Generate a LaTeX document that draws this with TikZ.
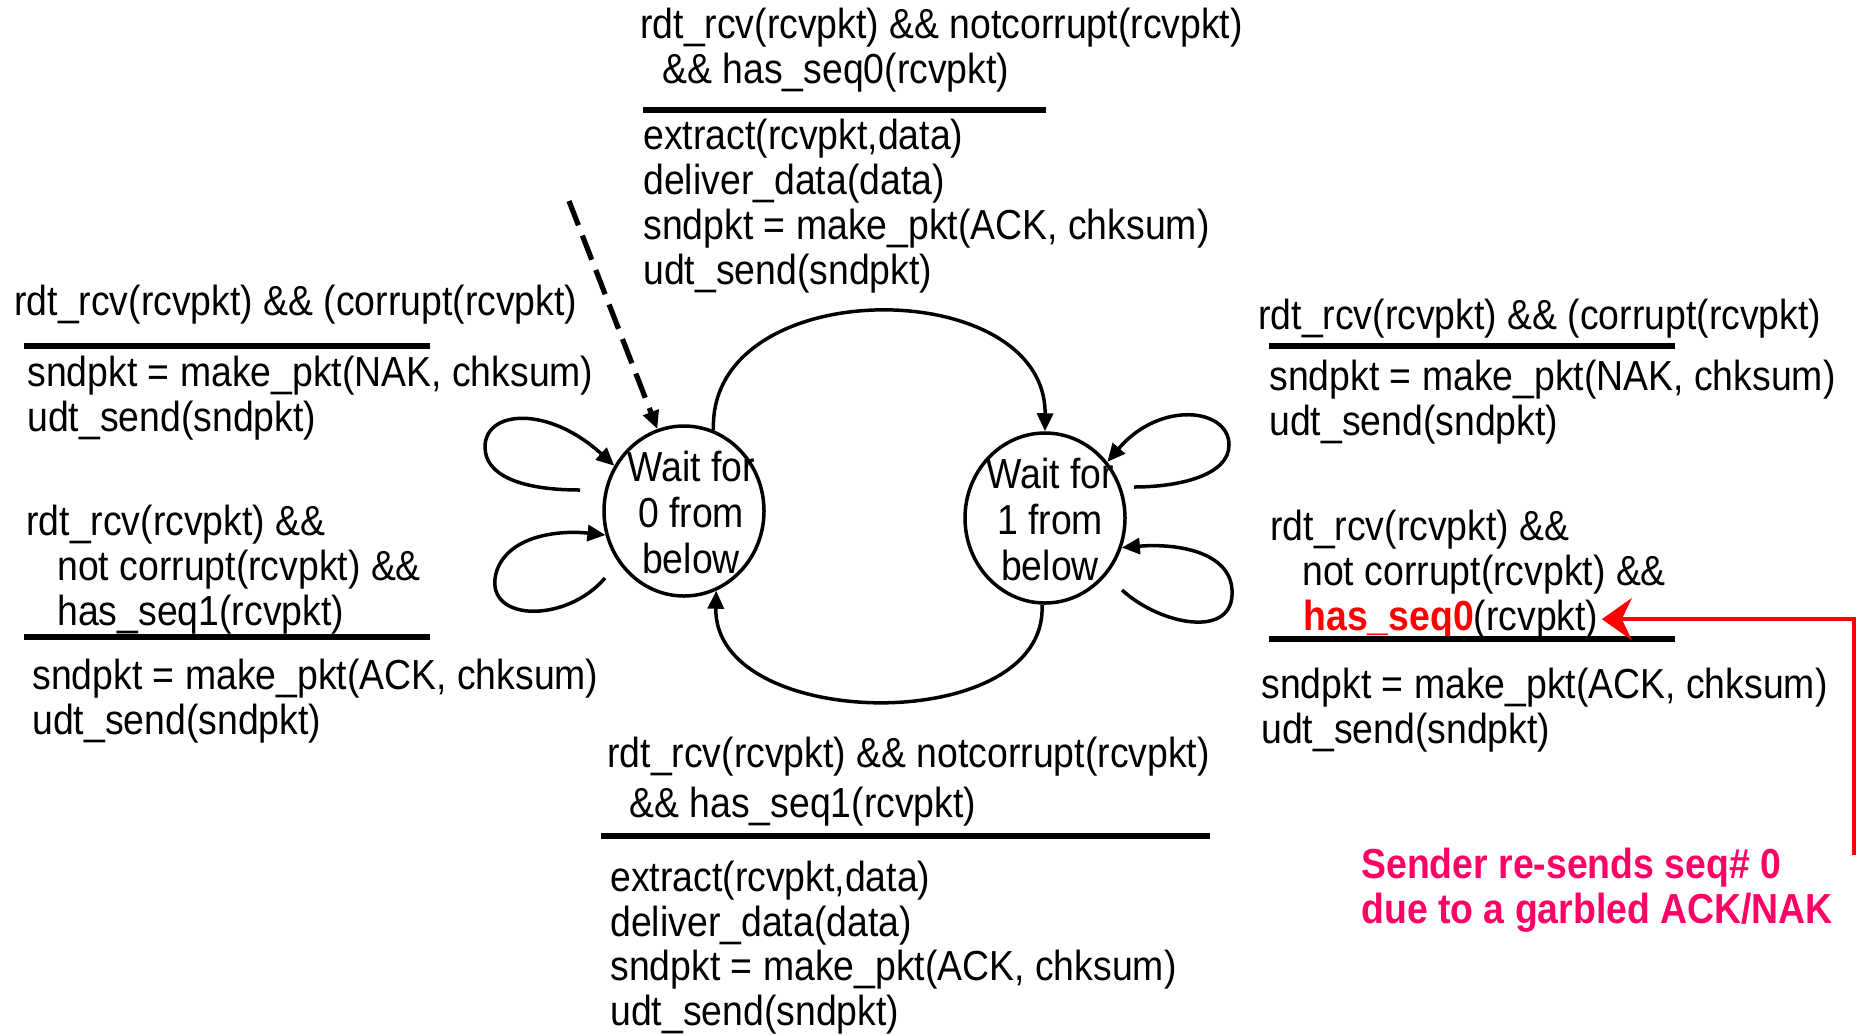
\documentclass[tikz,border=0pt]{standalone}
\usepackage{fontspec}
\setmainfont[FakeStretch=0.89]{Liberation Sans}
\usetikzlibrary{arrows.meta,shapes.geometric}
\definecolor{annot}{RGB}{255,0,102}
\definecolor{hred}{RGB}{255,0,0}
\begin{document}
\begin{tikzpicture}[x=0.5pt,y=-0.5pt,
  txt/.style={anchor=north west, inner sep=0pt, align=left, font=\fontsize{21}{22.5}\selectfont},
  txtwide/.style={txt, font=\fontsize{21}{25}\selectfont},
  txttight/.style={txt, font=\fontsize{21}{22.2}\selectfont},
  rulebar/.style={line width=3pt},
  state/.style={draw, ellipse, line width=1.75pt, minimum width=80pt, minimum height=85pt, inner sep=0pt},
  stxt/.style={align=center, inner sep=0pt, font=\fontsize{21}{23}\selectfont},
  trans/.style={line width=1.75pt, -{Triangle[length=9pt,width=8pt]}},
  initarrow/.style={line width=2.6pt, dash pattern=on 13pt off 5.5pt, -{Triangle[length=9pt,width=8pt]}},
  redarrow/.style={hred, line width=2pt, -{Stealth[length=15pt,width=21pt,inset=5pt]}},
  annottxt/.style={txt, text=annot, font=\fontsize{21}{22.5}\selectfont\bfseries}
]
\useasboundingbox (0,0) rectangle (1856,1035);

% states
\node[state] (s0) at (684,511) {};
\node[stxt] (s0t) at (691,512) {Wait for\\0 from\\below};
\node[state] (s1) at (1045,518) {};
\node[stxt] (s1t) at (1050,519) {Wait for\\1 from\\below};

% top block
\node[txt] (tc) at (640,8) {rdt\_rcv(rcvpkt) \&\& notcorrupt(rcvpkt)\\\hspace*{11pt}\&\& has\_seq0(rcvpkt)};
\draw[rulebar] (643,110) -- (1046,110);
\node[txt] (ta) at (643,119) {extract(rcvpkt,data)\\deliver\_data(data)\\sndpkt = make\_pkt(ACK, chksum)\\udt\_send(sndpkt)};

% left blocks
\node[txt] (lc1) at (14,285) {rdt\_rcv(rcvpkt) \&\& (corrupt(rcvpkt)};
\draw[rulebar] (24,346) -- (430,346);
\node[txt] (la1) at (27,356) {sndpkt = make\_pkt(NAK, chksum)\\udt\_send(sndpkt)};
\node[txt] (lc2) at (26,505) {rdt\_rcv(rcvpkt) \&\&\\\hspace*{15.5pt}not corrupt(rcvpkt) \&\&\\\hspace*{15.5pt}has\_seq1(rcvpkt)};
\draw[rulebar] (24,637) -- (430,637);
\node[txt] (la2) at (32,659) {sndpkt = make\_pkt(ACK, chksum)\\udt\_send(sndpkt)};

% right blocks
\node[txt] (rc1) at (1258,299) {rdt\_rcv(rcvpkt) \&\& (corrupt(rcvpkt)};
\draw[rulebar] (1269,346) -- (1675,346);
\node[txt] (ra1) at (1269,360) {sndpkt = make\_pkt(NAK, chksum)\\udt\_send(sndpkt)};
\node[txt] (rc2) at (1270,510) {rdt\_rcv(rcvpkt) \&\&\\\hspace*{16pt}not corrupt(rcvpkt) \&\&};
\node[anchor=base west, inner ysep=0pt, inner xsep=1.5pt, font=\fontsize{21}{22.5}\selectfont] (hs0) at (1300,630) {\textcolor{hred}{\bfseries has\_seq0}(rcvpkt)};
\draw[rulebar] (1269,639) -- (1675,639);
\node[txt] (ra2) at (1261,668) {sndpkt = make\_pkt(ACK, chksum)\\udt\_send(sndpkt)};

% bottom block
\node[txtwide] (bc) at (607,737) {rdt\_rcv(rcvpkt) \&\& notcorrupt(rcvpkt)\\\hspace*{11pt}\&\& has\_seq1(rcvpkt)};
\draw[rulebar] (601,836) -- (1210,836);
\node[txttight] (ba) at (610,861) {extract(rcvpkt,data)\\deliver\_data(data)\\sndpkt = make\_pkt(ACK, chksum)\\udt\_send(sndpkt)};

% annotation
\node[annottxt] (note) at (1361,848) {Sender re-sends seq\# 0\\due to a garbled ACK/NAK};

% initial arrow
\coordinate (init) at (569,201);
\draw[initarrow] (init) -- (s0.108);

% transitions between states
\draw[trans] (s0.70) .. controls (708,272) and (1046,273) .. (s1.north);
\draw[trans] (s1.268) .. controls (1049,737) and (713,733) .. (s0.-68);

% self loops on s0
\coordinate (l0a) at (580,490);
\draw[trans] (l0a) .. controls (520,490) and (485,475) .. (485,447) .. controls (485,410) and (548,405) .. (s0.147);
\coordinate (l0b) at (605,578);
\draw[trans] (l0b) .. controls (565,625) and (480,622) .. (497,570) .. controls (510,535) and (560,530) .. (s0.197);

% self loops on s1
\coordinate (l1a) at (1134,487);
\draw[trans] (l1a) .. controls (1180,487) and (1229,475) .. (1229,445) .. controls (1229,408) and (1160,400) .. (s1.42);
\coordinate (l1b) at (1122,590);
\draw[trans] (l1b) .. controls (1160,625) and (1235,640) .. (1232,590) .. controls (1230,553) and (1180,543) .. (s1.-21);

% red pointer
\coordinate (rstart) at (1854,855);
\draw[redarrow] (rstart) |- (hs0.east);
\end{tikzpicture}
\end{document}
